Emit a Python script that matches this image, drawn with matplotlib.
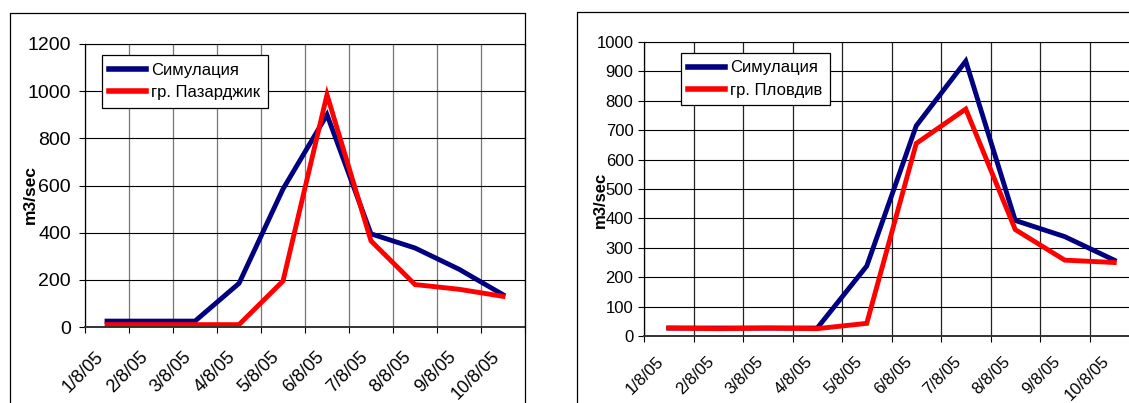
import matplotlib
matplotlib.use("Agg")
import matplotlib.pyplot as plt
from matplotlib.lines import Line2D
from matplotlib.transforms import ScaledTranslation

plt.rcParams['font.family'] = ['Liberation Sans', 'DejaVu Sans']

# ---------------- data ----------------
dates = ['1/8/05', '2/8/05', '3/8/05', '4/8/05', '5/8/05',
         '6/8/05', '7/8/05', '8/8/05', '9/8/05', '10/8/05']

sim_pazardzhik = [25, 25, 25, 185, 585, 900, 395, 335, 245, 137]
obs_pazardzhik = [10, 10, 10, 10, 195, 985, 365, 180, 160, 130]

sim_plovdiv = [27, 27, 27, 27, 238, 715, 935, 393, 338, 258]
obs_plovdiv = [27, 25, 27, 25, 43, 655, 772, 362, 258, 250]

label_sim = 'Симулация'
label_paz = 'гр. Пазарджик'
label_plv = 'гр. Пловдив'
ylabel = 'm3/sec'

# ---------------- figure ----------------
W, H = 1129, 403
DPI = 100
fig = plt.figure(figsize=(W / DPI, H / DPI), dpi=DPI)
fig.patch.set_facecolor('white')


def fx(px):
    return px / W


def fy(py):
    return 1 - py / H


def add_axes_px(left, right, top, bottom):
    return fig.add_axes([fx(left), fy(bottom), (right - left) / W, (bottom - top) / H])


BLUE = '#000080'
RED = '#FF0000'
LW = 3.5


def style_axes(ax, ymax, ystep, ytick_fs, xtick_fs, ypad, vgrid_color,
               lbl_dx, lbl_pad):
    n = len(dates)
    x = list(range(1, n + 1))
    ax.set_xlim(0.5, n + 0.5)
    ax.set_ylim(0, ymax)
    ax.set_yticks(list(range(0, ymax + 1, ystep)))
    ax.tick_params(axis='y', direction='out', length=4, width=0.8,
                   labelsize=ytick_fs, pad=ypad, colors='black')
    ax.set_xticks(x)
    ax.set_xticklabels(dates, rotation=45, ha='right', va='center',
                       rotation_mode='anchor', fontsize=xtick_fs)
    ax.tick_params(axis='x', which='major', length=0, pad=lbl_pad)
    ax.set_xticks([i + 0.5 for i in range(0, n + 1)], minor=True)
    ax.tick_params(axis='x', which='minor', direction='out', length=4.5,
                   width=0.8, color='black')
    offset = ScaledTranslation(lbl_dx / DPI, 0, fig.dpi_scale_trans)
    for lab in ax.get_xticklabels():
        lab.set_transform(lab.get_transform() + offset)
    ax.grid(axis='y', which='major', color='black', linewidth=0.8)
    ax.grid(axis='x', which='minor', color=vgrid_color, linewidth=0.9)
    ax.set_axisbelow(True)
    for s in ['top', 'right']:
        ax.spines[s].set_visible(True)
        ax.spines[s].set_linewidth(0.8)
        ax.spines[s].set_color('black')
    ax.spines['left'].set_linewidth(0.9)
    ax.spines['bottom'].set_linewidth(1.4)
    ax.spines['bottom'].set_color('#333333')
    return x


# ---------------- left chart ----------------
ax1 = add_axes_px(85, 525, 44, 327)
x1 = style_axes(ax1, 1200, 200, 14, 13, 6.0, '#777777', -6, 19.5)
ax1.plot(x1, sim_pazardzhik, color=BLUE, lw=LW, label=label_sim,
         solid_joinstyle='miter')
ax1.plot(x1, obs_pazardzhik, color=RED, lw=LW, label=label_paz,
         solid_joinstyle='miter')
leg1 = ax1.legend(loc='upper left', bbox_to_anchor=(0.0386, 0.961),
                  borderaxespad=0, fancybox=False, edgecolor='black',
                  framealpha=1, fontsize=12, handlelength=2.2,
                  handletextpad=0.3, labelspacing=0.45, borderpad=0.45)
leg1.get_frame().set_linewidth(0.9)
for h in leg1.get_lines():
    h.set_linewidth(4)
fig.text(fx(30), fy(194), ylabel, rotation=90, ha='center', va='center',
         fontsize=12.5, fontweight='bold')

# ---------------- right chart ----------------
ax2 = add_axes_px(644, 1139, 42, 336)
x2 = style_axes(ax2, 1000, 100, 12, 12, 3.6, '#222222', -7, 16.5)
ax2.plot(x2, sim_plovdiv, color=BLUE, lw=LW, label=label_sim,
         solid_joinstyle='miter')
ax2.plot(x2, obs_plovdiv, color=RED, lw=LW, label=label_plv,
         solid_joinstyle='miter')
leg2 = ax2.legend(loc='upper left', bbox_to_anchor=(0.0747, 0.9626),
                  borderaxespad=0, fancybox=False, edgecolor='black',
                  framealpha=1, fontsize=12, handlelength=2.2,
                  handletextpad=0.3, labelspacing=0.45, borderpad=0.45)
leg2.get_frame().set_linewidth(0.9)
for h in leg2.get_lines():
    h.set_linewidth(4)
fig.text(fx(600), fy(200), ylabel, rotation=90, ha='center', va='center',
         fontsize=12, fontweight='bold')

# ---------------- chart area borders ----------------
def fig_line(xs, ys, lw=1.0, color='black'):
    fig.add_artist(Line2D([fx(v) for v in xs], [fy(v) for v in ys],
                          color=color, linewidth=lw))


fig_line([10, 10, 525, 525], [410, 13, 13, 410], lw=0.9)
fig_line([577, 577, 1135], [410, 12, 12], lw=0.9)

fig.savefig('out.png', dpi=DPI, facecolor='white')
